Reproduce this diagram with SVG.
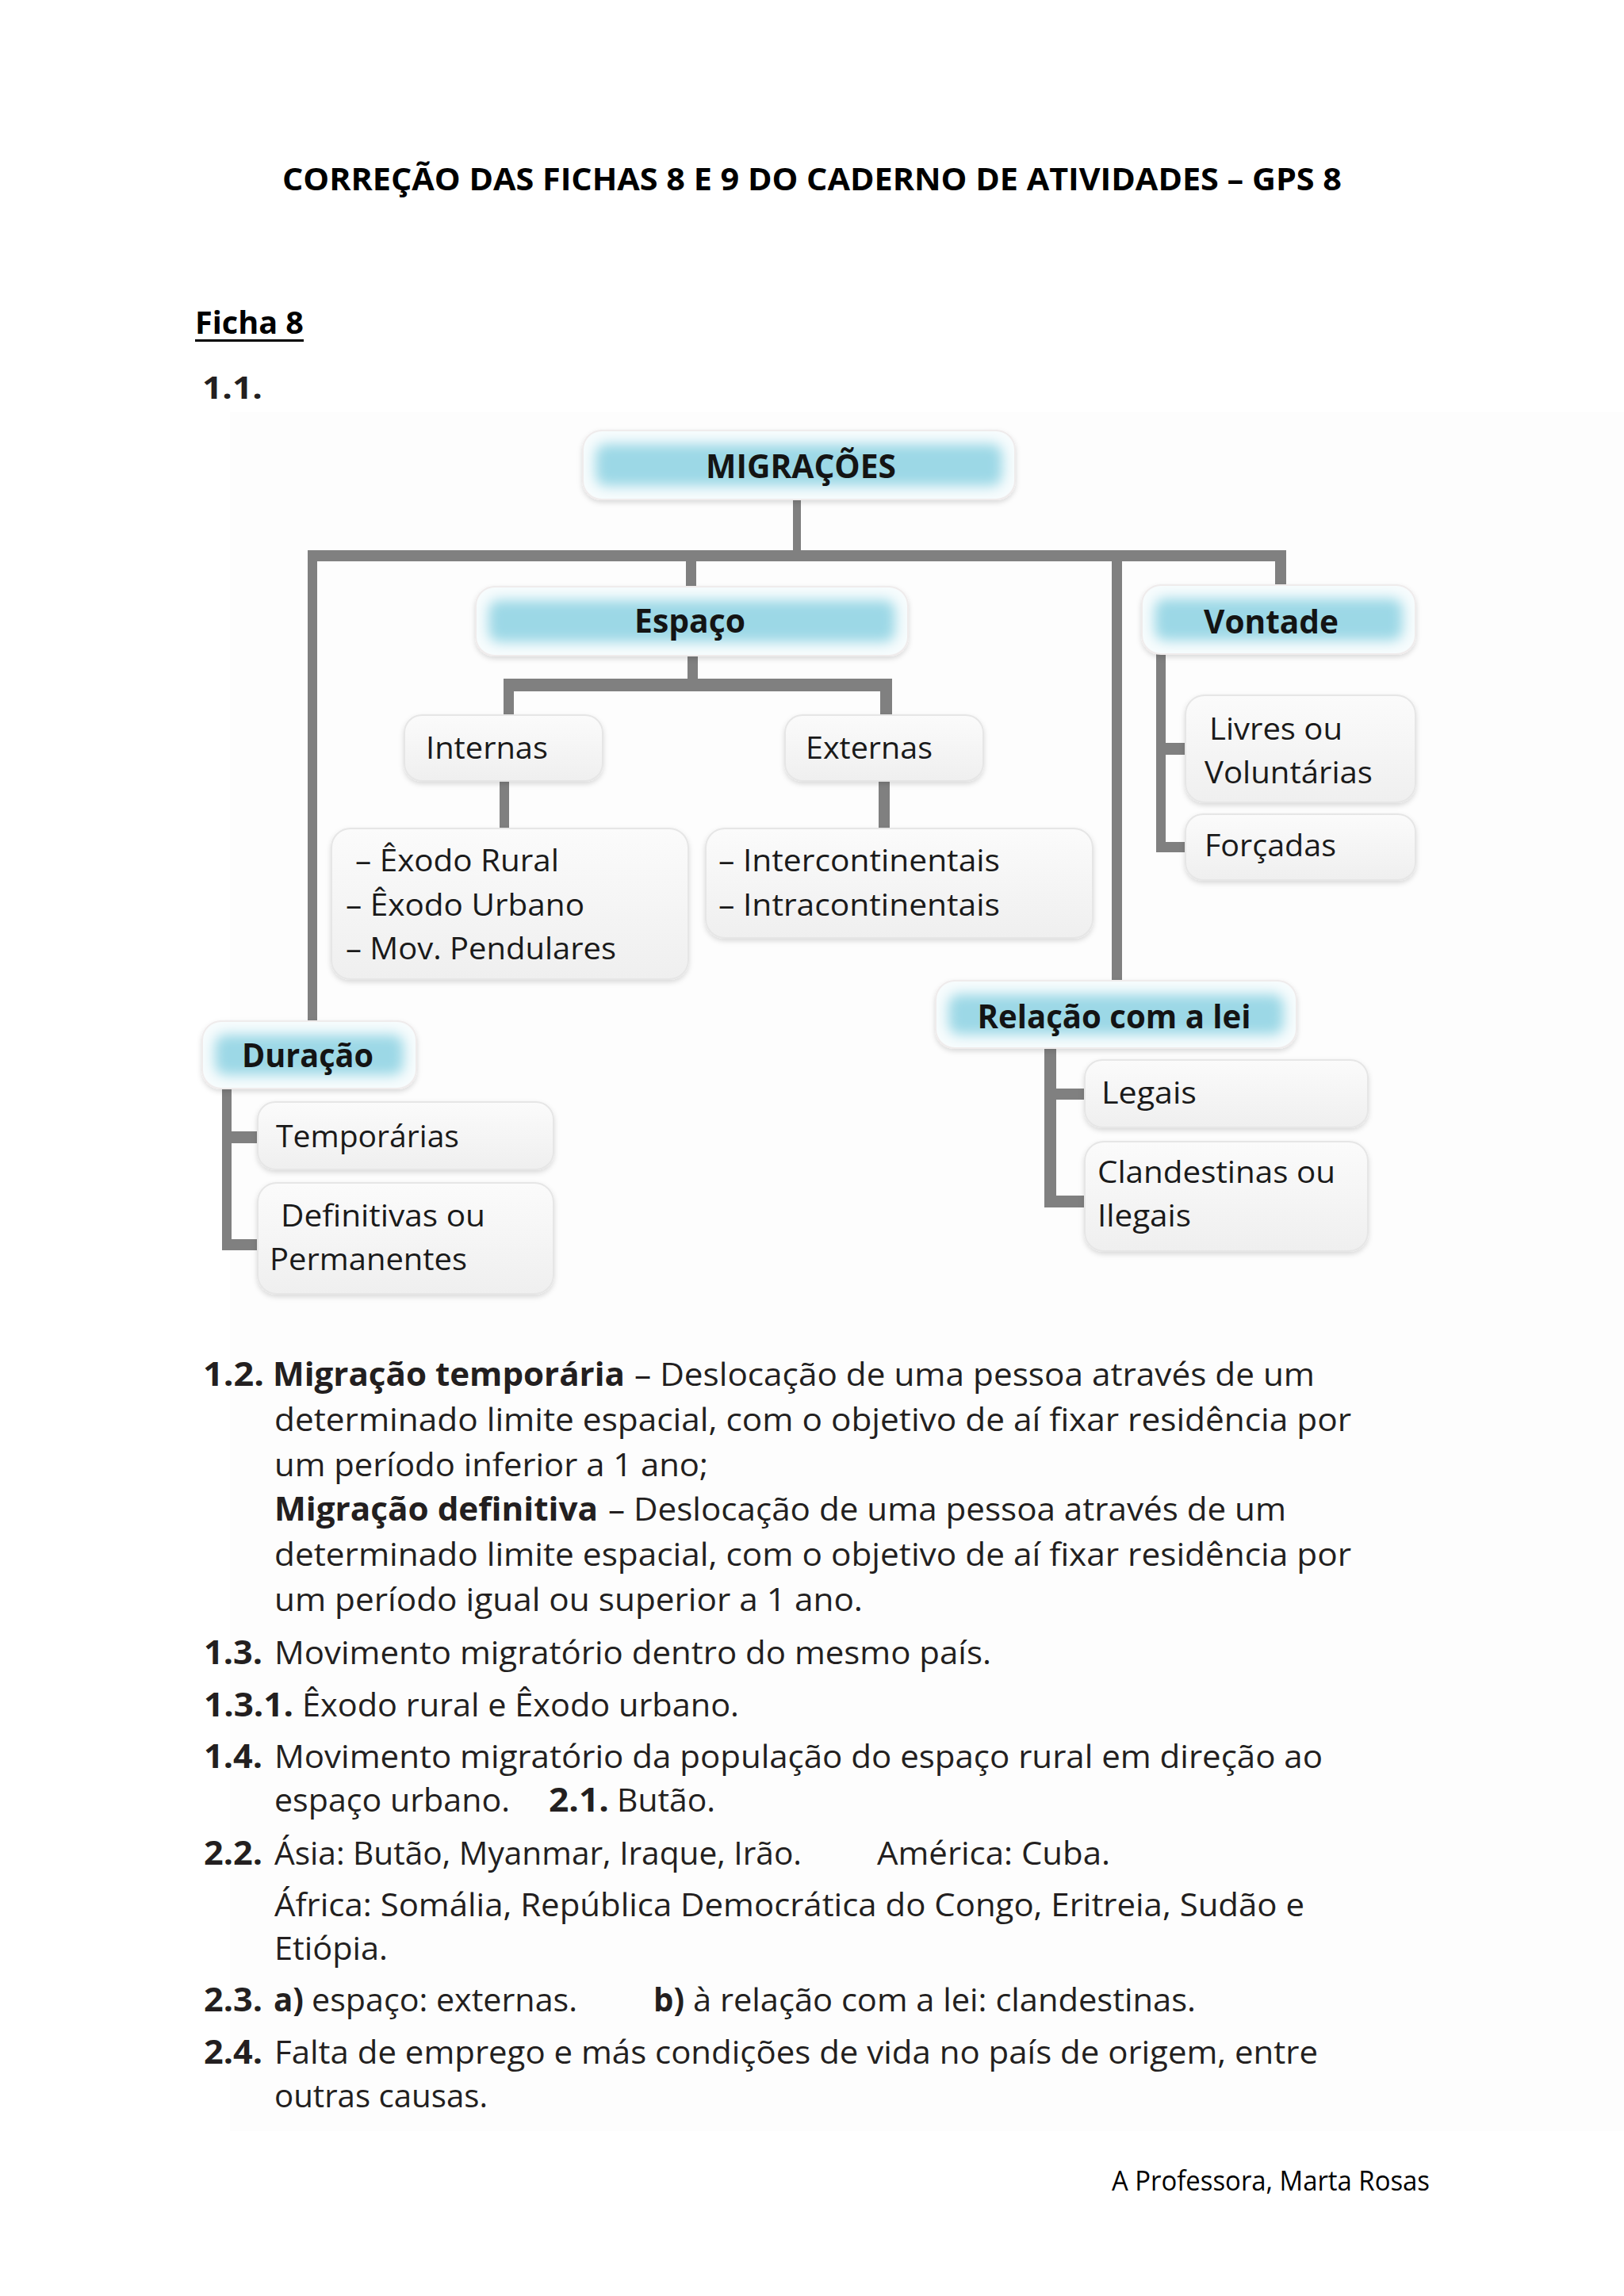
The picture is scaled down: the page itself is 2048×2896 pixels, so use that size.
<svg xmlns="http://www.w3.org/2000/svg" width="2048" height="2896" viewBox="0 0 2048 2896">
<defs>
<style>
text{font-family:"Open Sans","Liberation Sans",sans-serif;fill:#231f20}
.ttl{font-weight:700;font-size:40px;fill:#000}
.h{font-weight:700;font-size:41px;fill:#141414}
.lb{font-size:38px;fill:#1a1a1a}
.b{font-size:41px}
.bb{font-size:41px;font-weight:700}
.ft{font-size:34px;fill:#000}
.cn{fill:#808080}
.wb{fill:url(#gw);stroke:#e6e6e6;stroke-width:2}
.cb0{fill:#f7fcfd;stroke:#f0ecec;stroke-width:2}
.cb{fill:#9cd8e6}
</style>
<linearGradient id="gw" x1="0" y1="0" x2="0" y2="1">
<stop offset="0" stop-color="#fbfbfb"/>
<stop offset="1" stop-color="#efefef"/>
</linearGradient>
<filter id="sh" x="-10%" y="-20%" width="120%" height="150%">
<feDropShadow dx="0" dy="3" stdDeviation="3" flood-color="#000" flood-opacity="0.14"/>
</filter>
<filter id="glow" x="-20%" y="-80%" width="140%" height="260%">
<feGaussianBlur stdDeviation="8"/>
</filter>
</defs>
<rect x="0" y="0" width="2048" height="2896" fill="#ffffff"/>
<rect x="290" y="520" width="1758" height="2168" fill="#fdfdfd"/>

<g id="header">
<text class="ttl" x="356" y="240" textLength="1336" lengthAdjust="spacingAndGlyphs">CORREÇÃO DAS FICHAS 8 E 9 DO CADERNO DE ATIVIDADES – GPS 8</text>
<text class="ttl" x="246" y="421" font-size="38" textLength="137" lengthAdjust="spacingAndGlyphs">Ficha 8</text>
<rect x="246" y="428" width="137" height="3" fill="#000"/>
<text class="ttl" x="255" y="503" font-size="43" textLength="76" lengthAdjust="spacingAndGlyphs" style="fill:#231f20">1.1.</text>
</g>

<g id="connectors">
<rect class="cn" x="1000" y="630" width="10" height="70"/>
<rect class="cn" x="388" y="694" width="1234" height="14"/>
<rect class="cn" x="388" y="694" width="12" height="594"/>
<rect class="cn" x="865" y="700" width="13" height="42"/>
<rect class="cn" x="1402" y="700" width="13" height="537"/>
<rect class="cn" x="1608" y="694" width="14" height="46"/>
<rect class="cn" x="867" y="825" width="13" height="35"/>
<rect class="cn" x="635" y="856" width="490" height="16"/>
<rect class="cn" x="635" y="856" width="13" height="47"/>
<rect class="cn" x="1110" y="856" width="15" height="47"/>
<rect class="cn" x="630" y="984" width="12" height="62"/>
<rect class="cn" x="1108" y="984" width="14" height="62"/>
<rect class="cn" x="1458" y="824" width="12" height="251"/>
<rect class="cn" x="1458" y="937" width="38" height="15"/>
<rect class="cn" x="1458" y="1062" width="38" height="13"/>
<rect class="cn" x="1317" y="1320" width="15" height="203"/>
<rect class="cn" x="1317" y="1373" width="52" height="14"/>
<rect class="cn" x="1317" y="1508" width="52" height="15"/>
<rect class="cn" x="280" y="1372" width="12" height="205"/>
<rect class="cn" x="280" y="1427" width="46" height="15"/>
<rect class="cn" x="280" y="1563" width="46" height="14"/>
</g>

<g id="n-migracoes">
<rect class="cb0" x="735" y="543" width="545" height="87" rx="24" filter="url(#sh)"/>
<rect class="cb" x="751" y="560" width="513" height="53" rx="14" filter="url(#glow)"/>
<text class="h" x="1010" y="603" font-size="42" text-anchor="middle" textLength="240" lengthAdjust="spacingAndGlyphs">MIGRAÇÕES</text>
</g>

<g id="n-espaco">
<rect class="cb0" x="600" y="740" width="545" height="87" rx="24" filter="url(#sh)"/>
<rect class="cb" x="616" y="757" width="513" height="53" rx="14" filter="url(#glow)"/>
<text class="h" x="870" y="798" text-anchor="middle" textLength="140" lengthAdjust="spacingAndGlyphs">Espaço</text>
</g>

<g id="n-vontade">
<rect class="cb0" x="1440" y="738" width="345" height="87" rx="24" filter="url(#sh)"/>
<rect class="cb" x="1456" y="755" width="313" height="53" rx="14" filter="url(#glow)"/>
<text class="h" x="1603" y="799" text-anchor="middle" textLength="170" lengthAdjust="spacingAndGlyphs">Vontade</text>
</g>

<g id="n-internas">
<rect class="wb" x="510" y="902" width="250" height="83" rx="22" filter="url(#sh)"/>
<text class="lb" x="537" y="957" textLength="154" lengthAdjust="spacingAndGlyphs">Internas</text>
</g>

<g id="n-externas">
<rect class="wb" x="990" y="902" width="250" height="83" rx="22" filter="url(#sh)"/>
<text class="lb" x="1016" y="957" textLength="160" lengthAdjust="spacingAndGlyphs">Externas</text>
</g>

<g id="n-internas-lista">
<rect class="wb" x="418" y="1045" width="450" height="190" rx="24" filter="url(#sh)"/>
<text class="lb" x="448" y="1099" textLength="257" lengthAdjust="spacingAndGlyphs">– Êxodo Rural</text>
<text class="lb" x="436" y="1155" textLength="301" lengthAdjust="spacingAndGlyphs">– Êxodo Urbano</text>
<text class="lb" x="436" y="1210" textLength="341" lengthAdjust="spacingAndGlyphs">– Mov. Pendulares</text>
</g>

<g id="n-externas-lista">
<rect class="wb" x="890" y="1045" width="488" height="138" rx="24" filter="url(#sh)"/>
<text class="lb" x="906" y="1099" textLength="355" lengthAdjust="spacingAndGlyphs">– Intercontinentais</text>
<text class="lb" x="906" y="1155" textLength="355" lengthAdjust="spacingAndGlyphs">– Intracontinentais</text>
</g>

<g id="n-livres">
<rect class="wb" x="1495" y="877" width="290" height="135" rx="24" filter="url(#sh)"/>
<text class="lb" x="1525" y="933" textLength="168" lengthAdjust="spacingAndGlyphs">Livres ou</text>
<text class="lb" x="1519" y="988" textLength="212" lengthAdjust="spacingAndGlyphs">Voluntárias</text>
</g>

<g id="n-forcadas">
<rect class="wb" x="1495" y="1027" width="290" height="83" rx="22" filter="url(#sh)"/>
<text class="lb" x="1519" y="1080" textLength="166" lengthAdjust="spacingAndGlyphs">Forçadas</text>
</g>

<g id="n-relacao">
<rect class="cb0" x="1180" y="1237" width="455" height="85" rx="24" filter="url(#sh)"/>
<rect class="cb" x="1196" y="1254" width="423" height="51" rx="14" filter="url(#glow)"/>
<text class="h" x="1405" y="1297" text-anchor="middle" textLength="345" lengthAdjust="spacingAndGlyphs">Relação com a lei</text>
</g>

<g id="n-legais">
<rect class="wb" x="1368" y="1337" width="357" height="85" rx="22" filter="url(#sh)"/>
<text class="lb" x="1389" y="1392" textLength="120" lengthAdjust="spacingAndGlyphs">Legais</text>
</g>

<g id="n-clandestinas">
<rect class="wb" x="1368" y="1440" width="357" height="138" rx="24" filter="url(#sh)"/>
<text class="lb" x="1384" y="1492" textLength="300" lengthAdjust="spacingAndGlyphs">Clandestinas ou</text>
<text class="lb" x="1384" y="1547" textLength="118" lengthAdjust="spacingAndGlyphs">Ilegais</text>
</g>

<g id="n-duracao">
<rect class="cb0" x="255" y="1288" width="270" height="85" rx="24" filter="url(#sh)"/>
<rect class="cb" x="271" y="1305" width="238" height="51" rx="14" filter="url(#glow)"/>
<text class="h" x="305" y="1346" textLength="166" lengthAdjust="spacingAndGlyphs">Duração</text>
</g>

<g id="n-temporarias">
<rect class="wb" x="325" y="1390" width="373" height="85" rx="22" filter="url(#sh)"/>
<text class="lb" x="348" y="1447" textLength="231" lengthAdjust="spacingAndGlyphs">Temporárias</text>
</g>

<g id="n-definitivas">
<rect class="wb" x="325" y="1492" width="373" height="140" rx="24" filter="url(#sh)"/>
<text class="lb" x="354" y="1547" textLength="258" lengthAdjust="spacingAndGlyphs">Definitivas ou</text>
<text class="lb" x="340" y="1602" textLength="249" lengthAdjust="spacingAndGlyphs">Permanentes</text>
</g>

<g id="answers">
<text class="bb" x="256" y="1748" textLength="77" lengthAdjust="spacingAndGlyphs">1.2.</text>
<text class="bb" x="344" y="1748" textLength="444" lengthAdjust="spacingAndGlyphs">Migração temporária</text>
<text class="b" x="800" y="1748" textLength="858" lengthAdjust="spacingAndGlyphs">– Deslocação de uma pessoa através de um</text>
<text class="b" x="346" y="1805" textLength="1358" lengthAdjust="spacingAndGlyphs">determinado limite espacial, com o objetivo de aí fixar residência por</text>
<text class="b" x="346" y="1862" textLength="547" lengthAdjust="spacingAndGlyphs">um período inferior a 1 ano;</text>
<text class="bb" x="346" y="1918" textLength="408" lengthAdjust="spacingAndGlyphs">Migração definitiva</text>
<text class="b" x="767" y="1918" textLength="855" lengthAdjust="spacingAndGlyphs">– Deslocação de uma pessoa através de um</text>
<text class="b" x="346" y="1975" textLength="1358" lengthAdjust="spacingAndGlyphs">determinado limite espacial, com o objetivo de aí fixar residência por</text>
<text class="b" x="346" y="2032" textLength="742" lengthAdjust="spacingAndGlyphs">um período igual ou superior a 1 ano.</text>

<text class="bb" x="257" y="2099" textLength="74" lengthAdjust="spacingAndGlyphs">1.3.</text>
<text class="b" x="346" y="2099" textLength="904" lengthAdjust="spacingAndGlyphs">Movimento migratório dentro do mesmo país.</text>

<text class="bb" x="257" y="2165" textLength="113" lengthAdjust="spacingAndGlyphs">1.3.1.</text>
<text class="b" x="381" y="2165" textLength="551" lengthAdjust="spacingAndGlyphs">Êxodo rural e Êxodo urbano.</text>

<text class="bb" x="257" y="2230" textLength="74" lengthAdjust="spacingAndGlyphs">1.4.</text>
<text class="b" x="346" y="2230" textLength="1322" lengthAdjust="spacingAndGlyphs">Movimento migratório da população do espaço rural em direção ao</text>
<text class="b" x="346" y="2285" textLength="297" lengthAdjust="spacingAndGlyphs">espaço urbano.</text>
<text class="bb" x="692" y="2285" textLength="76" lengthAdjust="spacingAndGlyphs">2.1.</text>
<text class="b" x="778" y="2285" textLength="124" lengthAdjust="spacingAndGlyphs">Butão.</text>

<text class="bb" x="257" y="2352" textLength="74" lengthAdjust="spacingAndGlyphs">2.2.</text>
<text class="b" x="346" y="2352" textLength="665" lengthAdjust="spacingAndGlyphs">Ásia: Butão, Myanmar, Iraque, Irão.</text>
<text class="b" x="1106" y="2352" textLength="294" lengthAdjust="spacingAndGlyphs">América: Cuba.</text>
<text class="b" x="346" y="2417" textLength="1299" lengthAdjust="spacingAndGlyphs">África: Somália, República Democrática do Congo, Eritreia, Sudão e</text>
<text class="b" x="346" y="2472" textLength="143" lengthAdjust="spacingAndGlyphs">Etiópia.</text>

<text class="bb" x="257" y="2537" textLength="74" lengthAdjust="spacingAndGlyphs">2.3.</text>
<text class="bb" x="345" y="2537" textLength="38" lengthAdjust="spacingAndGlyphs">a)</text>
<text class="b" x="393" y="2537" textLength="335" lengthAdjust="spacingAndGlyphs">espaço: externas.</text>
<text class="bb" x="824" y="2537" textLength="39" lengthAdjust="spacingAndGlyphs">b)</text>
<text class="b" x="874" y="2537" textLength="634" lengthAdjust="spacingAndGlyphs">à relação com a lei: clandestinas.</text>

<text class="bb" x="257" y="2603" textLength="74" lengthAdjust="spacingAndGlyphs">2.4.</text>
<text class="b" x="346" y="2603" textLength="1316" lengthAdjust="spacingAndGlyphs">Falta de emprego e más condições de vida no país de origem, entre</text>
<text class="b" x="346" y="2658" textLength="269" lengthAdjust="spacingAndGlyphs">outras causas.</text>
</g>

<g id="footer">
<text class="ft" x="1402" y="2763" textLength="401" lengthAdjust="spacingAndGlyphs">A Professora, Marta Rosas</text>
</g>
</svg>
